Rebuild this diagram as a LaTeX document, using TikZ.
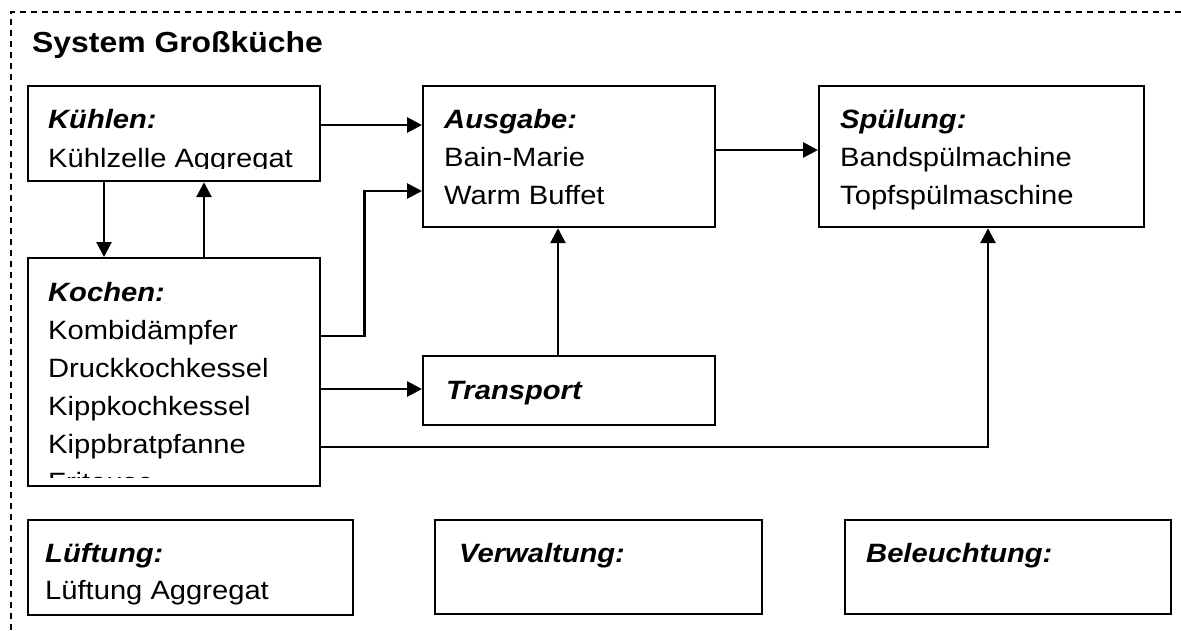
\documentclass[tikz,border=0pt]{standalone}
\usepackage{fontspec}
\setmainfont{Liberation Sans}[FakeStretch=1.1]
\usetikzlibrary{arrows.meta}

\tikzset{
  unitbox/.style={draw, line width=2.2pt, inner sep=0pt, anchor=north west},
  flow/.style={line width=2.8pt, -{Triangle[length=15pt,width=15pt]}},
  head/.style={anchor=base west, inner sep=0pt, font=\fontsize{26.5}{38}\selectfont\bfseries\itshape},
  item/.style={anchor=base west, inner sep=0pt, font=\fontsize{26.5}{38}\selectfont},
}

\begin{document}
\begin{tikzpicture}[x=1pt, y=-1pt]
    \useasboundingbox (0,0) rectangle (1181,630);
    % frame of the system
    \draw[line width=1.3pt, dash pattern=on 6pt off 5pt] (1181,12) -- (11,12) -- (11,630);
    \node[anchor=base west, inner sep=0pt, font=\fontsize{29}{38}\selectfont\bfseries] (title) at (32,52) {System Großküche};

    % boxes
    \node[unitbox, minimum width=292, minimum height=95]  (kuehlen)   at (27,85)  {};
    \node[unitbox, minimum width=292, minimum height=141] (ausgabe)   at (422,85) {};
    \node[unitbox, minimum width=325, minimum height=141] (spuelung)  at (818,85) {};
    \node[unitbox, minimum width=292, minimum height=228] (kochen)    at (27,257) {};
    \node[unitbox, minimum width=292, minimum height=69]  (transport) at (422,355) {};
    \node[unitbox, minimum width=325, minimum height=95]  (lueftung)  at (27,519) {};
    \node[unitbox, minimum width=327, minimum height=94]  (verwaltung) at (434,519) {};
    \node[unitbox, minimum width=326, minimum height=94]  (beleuchtung) at (844,519) {};

    % texts
    \begin{scope}
      \clip (27,85) rectangle (319,168.5);
      \node[head] (kuehlenT) at (48,128) {Kühlen:};
      \node[item] (kuehlenA) at (48,167) {Kühlzelle Aggregat};
    \end{scope}
    \node[head] (ausgabeT) at (444,128) {Ausgabe:};
    \node[item] (ausgabeA) at (444,166) {Bain-Marie};
    \node[item] (ausgabeB) at (444,204) {Warm Buffet};
    \node[head] (spuelungT) at (840,128) {Spülung:};
    \node[item] (spuelungA) at (840,166) {Bandspülmachine};
    \node[item] (spuelungB) at (840,204) {Topfspülmaschine};
    \begin{scope}
      \clip (27,257) rectangle (319,477);
      \node[head] (kochenT) at (48,301) {Kochen:};
      \node[item] (kochenA) at (48,339) {Kombidämpfer};
      \node[item] (kochenB) at (48,377) {Druckkochkessel};
      \node[item] (kochenC) at (48,415) {Kippkochkessel};
      \node[item] (kochenD) at (48,453) {Kippbratpfanne};
      \node[item] (kochenE) at (48,491) {Friteuse};
    \end{scope}
    \node[head] (transportT) at (446,399) {Transport};
    \node[head] (lueftungT) at (45,562) {Lüftung:};
    \node[item] (lueftungA) at (45,599) {Lüftung Aggregat};
    \node[head] (verwaltungT) at (459,562) {Verwaltung:};
    \node[head] (beleuchtungT) at (866,562) {Beleuchtung:};

    % connectors
    \draw[flow] ([yshift=-40pt]kuehlen.north east) -- ([yshift=-40pt]ausgabe.north west);
    \draw[flow] ([yshift=-79pt]kochen.north east) -- ++(43,0) |- ([yshift=-106pt]ausgabe.north west);
    \draw[flow] ([xshift=77pt]kuehlen.south west) -- ([xshift=77pt]kochen.north west);
    \draw[flow] ([xshift=177pt]kochen.north west) -- ([xshift=177pt]kuehlen.south west);
    \draw[flow] ([yshift=-132pt]kochen.north east) -- ([yshift=-34pt]transport.north west);
    \draw[flow] ([xshift=136pt]transport.north west) -- ([xshift=136pt]ausgabe.south west);
    \draw[flow] ([yshift=-65pt]ausgabe.north east) -- ([yshift=-65pt]spuelung.north west);
    \draw[flow] ([yshift=-190pt]kochen.north east) -| ([xshift=170pt]spuelung.south west);
\end{tikzpicture}
\end{document}
